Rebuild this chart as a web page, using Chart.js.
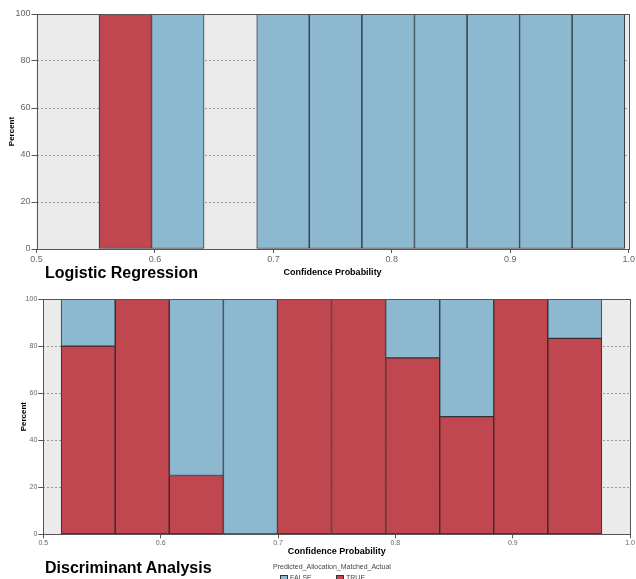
<!DOCTYPE html>
<html>
<head>
<meta charset="utf-8">
<script src="https://cdn.jsdelivr.net/npm/chart.js@4/dist/chart.umd.min.js"></script>
<style>
  body { margin: 0; width: 636px; height: 579px; background: #fff; overflow: hidden; position: relative; font-family: "Liberation Sans", Arial, sans-serif; }
  canvas { position: absolute; left: 0; }
  .big { position: absolute; left: 45px; font-weight: bold; font-size: 16px; color: #000; }
  .leg { position: absolute; font-size: 7px; color: #444; }
  .box { position: absolute; width: 6px; height: 6px; border: 1px solid #333; }
</style>
</head>
<body>
<canvas id="top" width="636" height="285" style="top:0"></canvas>
<canvas id="bottom" width="636" height="294" style="top:285px"></canvas>
<div class="big" style="top:264px">Logistic Regression</div>
<div class="big" style="top:559px">Discriminant Analysis</div>
<div class="leg" style="left:273px;top:563px">Predicted_Allocation_Matched_Actual</div>
<div class="box" style="left:280px;top:575px;background:#8cb8d0"></div>
<div class="leg" style="left:290px;top:574px">FALSE</div>
<div class="box" style="left:336px;top:575px;background:#c0474f"></div>
<div class="leg" style="left:346px;top:574px">TRUE</div>
<script>
// bin centres (confidence probability) and percent per group
const logCenters = [0.5749, 0.6193, 0.6637, 0.7081, 0.7525, 0.7969, 0.8413, 0.8857, 0.9300, 0.9744];
const logTrue = [100, null, null, null, null, null, null, null, null, null];
const logFalse = [null, 100, null, 100, 100, 100, 100, 100, 100, 100];

const daCenters = [0.5382, 0.5843, 0.6304, 0.6765, 0.7225, 0.7686, 0.8147, 0.8608, 0.9068, 0.9529];
const daTrue = [80, 100, 25, null, 100, 100, 75, 50, 100, 83.3];
const daFalse = [20, null, 75, 100, null, null, 25, 50, null, 16.7];

const xTicks = [0.5, 0.6, 0.7, 0.8, 0.9, 1.0];
const yTicks = [0, 20, 40, 60, 80, 100];

const RED = "#c0474f";
const BLUE = "#8cb8d0";

const plotBg = {
  id: "plotBg",
  beforeDraw(chart) {
    const { ctx, chartArea: a } = chart;
    ctx.save();
    ctx.fillStyle = "#ebebeb";
    ctx.fillRect(a.left, a.top, a.right - a.left, a.bottom - a.top);
    ctx.restore();
  },
  afterDraw(chart) {
    const { ctx, chartArea: a } = chart;
    ctx.save();
    ctx.strokeStyle = "#555";
    ctx.lineWidth = 1;
    ctx.strokeRect(Math.round(a.left) + 0.5, Math.round(a.top) + 0.5, Math.round(a.right - a.left), Math.round(a.bottom - a.top));
    ctx.restore();
  }
};

const makeChart = (id, centers, trueVals, falseVals, o) => {
  const toPts = (vals) => centers.map((c, i) => ({ x: c, y: vals[i] }));
  new Chart(document.getElementById(id), {
    type: "bar",
    data: {
      datasets: [
        { label: "TRUE", data: toPts(trueVals), backgroundColor: RED, borderColor: "#3a2a2c", borderWidth: 1, borderSkipped: false },
        { label: "FALSE", data: toPts(falseVals), backgroundColor: BLUE, borderColor: "#33414a", borderWidth: 1, borderSkipped: false }
      ]
    },
    options: {
      responsive: false,
      animation: false,
      layout: { autoPadding: false, padding: { left: 0, top: 14, right: o.right, bottom: 0 } },
      datasets: { bar: { barPercentage: 1, categoryPercentage: 1 } },
      plugins: { legend: { display: false }, tooltip: { enabled: false } },
      scales: {
        x: {
          type: "linear",
          stacked: true,
          offset: false,
          min: 0.5,
          max: 1.0,
          afterBuildTicks: (s) => { s.ticks = xTicks.map((v) => ({ value: v })); },
          afterFit: (s) => { s.height = o.xHeight; },
          grid: { offset: false, drawOnChartArea: false, tickLength: 4, tickColor: "#555" },
          border: { display: false },
          ticks: { color: "#666", font: { size: o.tickSize, family: "Liberation Sans" }, padding: 1, maxRotation: 0, callback: (v) => v.toFixed(1) },
          title: { display: true, text: "Confidence Probability", color: "#000", font: { size: 9, weight: "bold", family: "Liberation Sans" }, padding: { top: 0, bottom: o.xTitlePad } }
        },
        y: {
          stacked: true,
          min: 0,
          max: 100,
          afterBuildTicks: (s) => { s.ticks = yTicks.map((v) => ({ value: v })); },
          afterFit: (s) => { s.width = o.yWidth; },
          grid: { color: "#9a9a9a", tickLength: 5, tickColor: "#555", tickBorderDash: [] },
          border: { display: false, dash: [2, 2] },
          ticks: { color: "#666", font: { size: o.tickSize, family: "Liberation Sans" }, padding: 1 },
          title: { display: true, text: "Percent", color: "#000", font: { size: 8, weight: "bold", family: "Liberation Sans" }, padding: { top: o.yTitlePad, bottom: 0 } }
        }
      }
    },
    plugins: [plotBg]
  });
};

makeChart("top", logCenters, logTrue, logFalse, { right: 4, xHeight: 36, yWidth: 36.5, tickSize: 9, xTitlePad: 7, yTitlePad: 7 });
makeChart("bottom", daCenters, daTrue, daFalse, { right: 3, xHeight: 44.7, yWidth: 43.3, tickSize: 7, xTitlePad: 22, yTitlePad: 19 });
</script>
</body>
</html>
